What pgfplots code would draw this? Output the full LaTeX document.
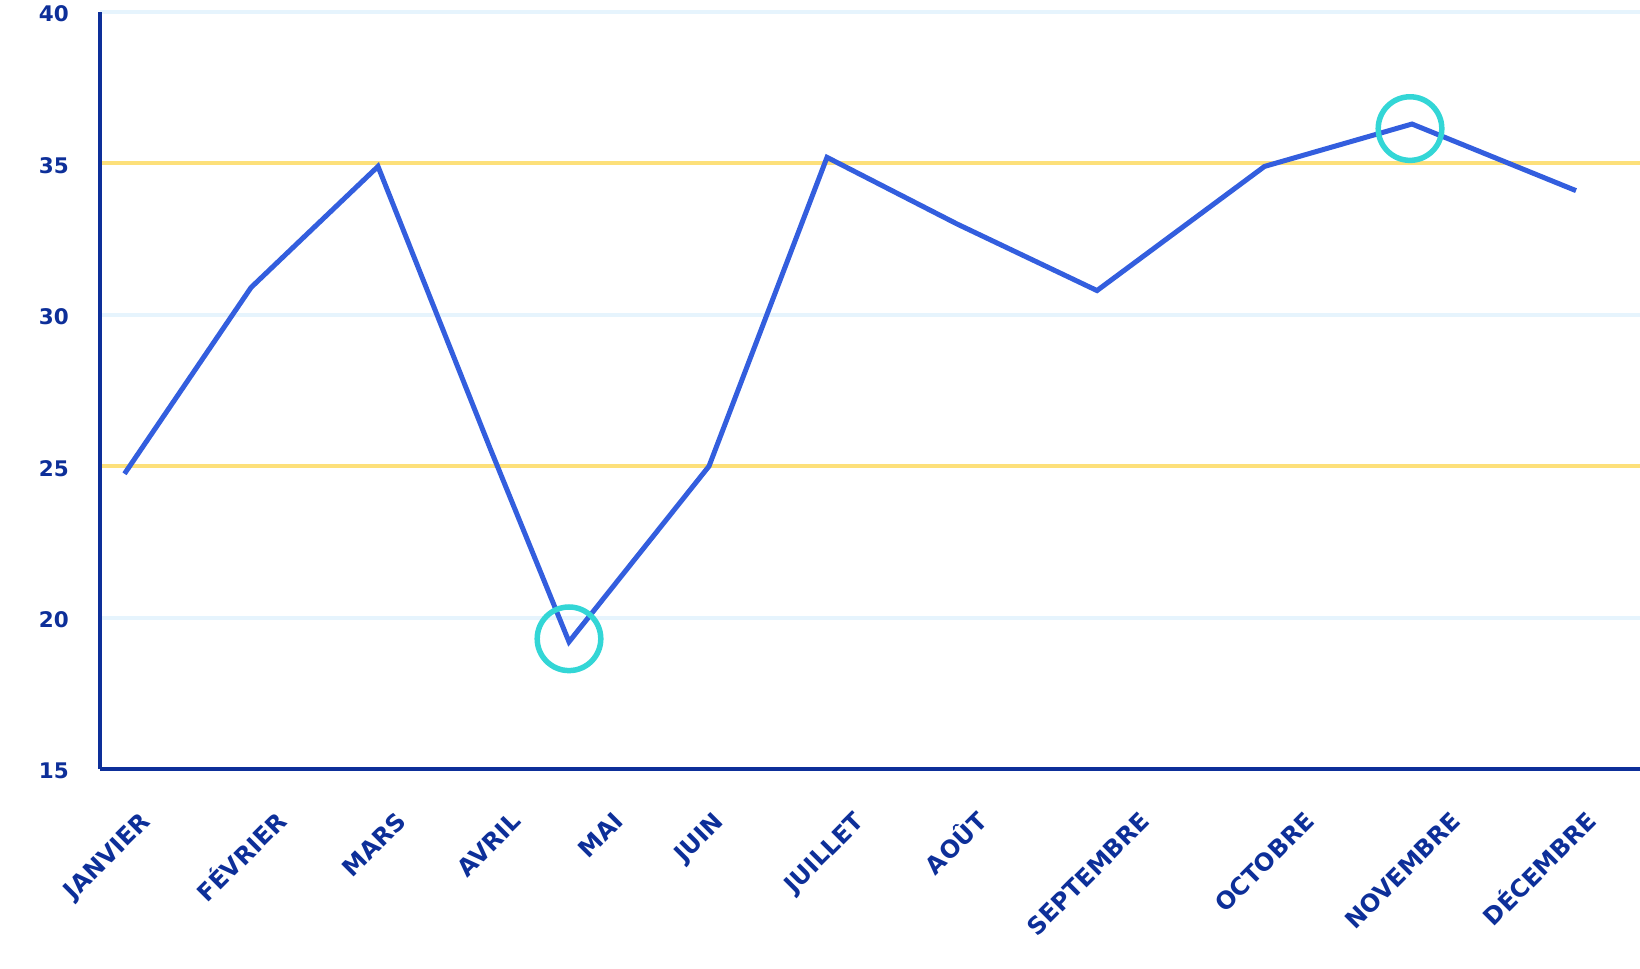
\documentclass[border=0pt]{standalone}
\usepackage{fontspec}
\setmainfont{DejaVu Sans}
\usepackage{pgfplots}
\pgfplotsset{compat=1.18}
\definecolor{axisblue}{HTML}{0D2F99}
\definecolor{lineblue}{HTML}{335EDE}
\definecolor{turq}{HTML}{33D6D6}
\definecolor{gridyellow}{HTML}{FDE07A}
\definecolor{gridblue}{HTML}{E6F4FD}
\begin{document}
\begin{tikzpicture}
\begin{axis}[
  scale only axis, width=1540bp, height=757bp,
  xmin=100, xmax=1640, ymin=15, ymax=40,
  axis x line*=bottom, axis y line*=left,
  axis line style={axisblue, line width=4bp, -},
  axis on top,
  ytick={15,20,25,30,35,40},
  xtick={151.7,288.3,408.3,522.7,625,725,865.5,989,1151.7,1316,1462.7,1598.3},
  xticklabels={JANVIER,FÉVRIER,MARS,AVRIL,MAI,JUIN,JUILLET,AOÛT,SEPTEMBRE,OCTOBRE,NOVEMBRE,DÉCEMBRE},
  major tick length=0pt,
  tick style={draw=none},
  /pgf/number format/assume math mode=true,
  yticklabel style={font=\fontsize{21.5bp}{25bp}\selectfont\bfseries, text=axisblue, anchor=east, inner sep=0pt, xshift=-31bp, yshift=-2bp},
  xticklabel style={font=\fontsize{24bp}{28bp}\selectfont\bfseries, text=axisblue, rotate=45, anchor=base east, inner sep=0pt},
  xticklabel shift=54bp,
  clip=false,
]
\addplot[gridblue, line width=4bp, forget plot] coordinates {(100,20) (1640,20)};
\addplot[gridblue, line width=4bp, forget plot] coordinates {(100,30) (1640,30)};
\addplot[gridblue, line width=4bp, forget plot] coordinates {(100,40) (1640,40)};
\addplot[gridyellow, line width=4bp, forget plot] coordinates {(100,25) (1640,25)};
\addplot[gridyellow, line width=4bp, forget plot] coordinates {(100,35) (1640,35)};
\addplot[lineblue, line width=5bp, mark=none] coordinates {
  (124.5,24.75) (251,30.9) (378,34.9) (490,25.6) (569,19.2) (709,25.0)
  (827,35.2) (957,33.0) (1097,30.8) (1264.5,34.9) (1412,36.3) (1576,34.1)
};
\addplot[only marks, mark=o, mark size=31.8bp, mark options={draw=turq, line width=5.5bp}] coordinates {(569,19.3) (1410,36.15)};
\end{axis}
\pgfresetboundingbox
\path[use as bounding box] (-100bp,-200bp) rectangle (1540bp,769bp);
\end{tikzpicture}
\end{document}
